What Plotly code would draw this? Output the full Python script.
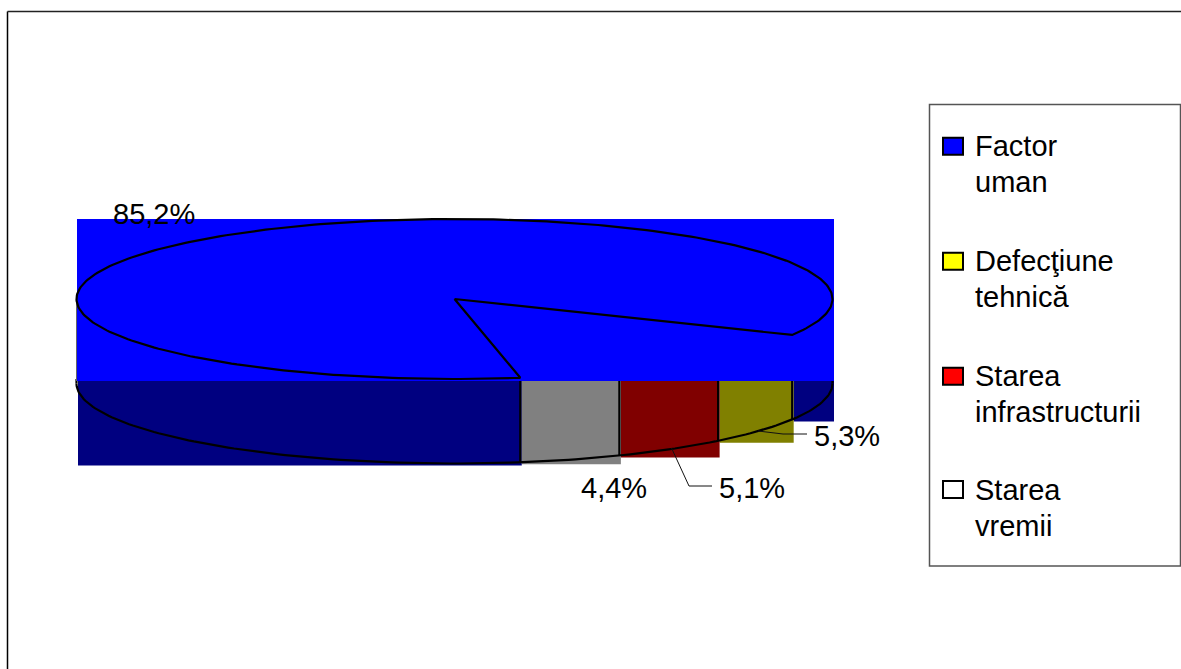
import numpy as np
import plotly.graph_objects as go

# Accident causes and their shares, in percent
categories = [["Factor", "uman"], ["Defecţiune", "tehnică"], ["Starea", "infrastructurii"], ["Starea", "vremii"]]
shares = [85.2, 5.3, 5.1, 4.4]
share_labels = ["85,2%", "5,3%", "5,1%", "4,4%"]

TOP_COLORS = ["#0000ff", "#ffff00", "#ff0000", "#ffffff"]
SIDE_COLORS = ["#000080", "#808000", "#800000", "#808080"]

# Tilted disc geometry, in pixels
CX, CY, RX, RY, DEPTH = 454.5, 299.0, 378.0, 80.0, 84.5
# Parametric angle where the first slice after the large one begins
START_DEG = 26.7
FONT = "Liberation Sans, Arial, sans-serif"
TEXT_SIZE = 29
RIM_WIDTH = 2.2


def top_xy(deg):
    rad = np.radians(deg)
    return CX + RX * np.cos(rad), CY + RY * np.sin(rad)


def bottom_xy(deg):
    x, y = top_xy(deg)
    return x, y + DEPTH


def arc(fn, a, b, n=160):
    return fn(np.linspace(a, b, n))


def box(x0, x1, y0, y1):
    return [x0, x1, x1, x0, x0], [y0, y0, y1, y1, y0]


# Slice boundaries run clockwise on screen: small slices first, large slice last
sweeps = [s / sum(shares) * 360 for s in shares[1:]]
edges = np.concatenate([[START_DEG], START_DEG + np.cumsum(sweeps)])

fig = go.Figure()


def add_fill(xs, ys, color):
    fig.add_trace(go.Scatter(x=xs, y=ys, mode="lines", fill="toself", fillcolor=color,
                             line=dict(width=0, color=color), showlegend=False, hoverinfo="skip"))


def add_line(xs, ys, width=RIM_WIDTH, color="#000000"):
    fig.add_trace(go.Scatter(x=xs, y=ys, mode="lines", line=dict(width=width, color=color),
                             showlegend=False, hoverinfo="skip"))


def add_side(a, b, color):
    xs, ys = arc(bottom_xy, a, b)
    add_fill(*box(xs.min() + 1.5, xs.max() + 1.5, CY, ys.max() + 2), color)


# Side walls: the large slice shows on both flanks of the small ones
add_side(edges[-1], 180, SIDE_COLORS[0])
add_side(0, edges[0], SIDE_COLORS[0])
for i in range(3):
    add_side(edges[i], edges[i + 1], SIDE_COLORS[i + 1])

# Lower rim and the vertical seams between slices
xs, ys = arc(bottom_xy, 0, 180)
add_line(xs, ys)
for e in edges:
    x, y = bottom_xy(e)
    add_line([x, x], [CY, y])
add_line([CX + RX, CX + RX], [CY, CY + DEPTH])
add_line([CX - RX, CX - RX], [CY + RY, CY + DEPTH])

# Top face of the large slice
add_fill(*box(CX - RX + 0.5, CX + RX + 1.5, CY - RY, CY + RY + 2), TOP_COLORS[0])
add_line([CX - RX, CX - RX], [CY, CY + RY + 2], width=1, color="#666666")

# Outline of the large slice: rim all the way round, then back through the centre
rim_x, rim_y = arc(top_xy, edges[-1], START_DEG + 360, 300)
add_line(np.concatenate([[CX], rim_x, [CX]]), np.concatenate([[CY], rim_y, [CY]]))

# Leader lines for two of the small slices
add_line([671.5, 689, 712], [448, 486, 486], width=1, color="#111111")
add_line([758, 783, 807], [431, 434, 434], width=1, color="#111111")

# Value labels, as placed beside the disc
label_centers = [(154, 214), (847, 436), (751.5, 488), (614, 488)]
annotations = [
    dict(x=px, y=py, text=t, showarrow=False, xanchor="center", yanchor="middle",
         font=dict(family=FONT, size=TEXT_SIZE, color="#000000"))
    for t, (px, py) in zip(share_labels, label_centers)
]

# Outer frame edges and the key box
shapes = [
    dict(type="line", x0=7.5, x1=7.5, y0=11.5, y1=669, line=dict(color="#000000", width=1.5)),
    dict(type="line", x0=7.5, x1=1181, y0=11.5, y1=11.5, line=dict(color="#222222", width=1.5)),
    dict(type="rect", x0=929.5, x1=1180.5, y0=104.5, y1=566, line=dict(color="#555555", width=1.5)),
]

# Key: a swatch per cause, with its name on two lines beside it
key_rows = [146.2, 261.2, 376.2, 489.5]
LINE_STEP = 36
for name_lines, color, row in zip(categories, TOP_COLORS, key_rows):
    shapes.append(dict(type="rect", x0=943, x1=963, y0=row - 8.5, y1=row + 8.5,
                       fillcolor=color, line=dict(color="#000000", width=2)))
    for j, line in enumerate(name_lines):
        annotations.append(dict(x=973, y=row + j * LINE_STEP, text=line, showarrow=False,
                                xanchor="left", yanchor="middle",
                                font=dict(family=FONT, size=TEXT_SIZE, color="#000000")))

fig.update_layout(
    width=1181, height=669, margin=dict(l=0, r=0, t=0, b=0),
    paper_bgcolor="#ffffff", plot_bgcolor="#ffffff", showlegend=False,
    xaxis=dict(range=[0, 1181], visible=False, fixedrange=True),
    yaxis=dict(range=[669, 0], visible=False, fixedrange=True),
    annotations=annotations, shapes=shapes, hovermode=False,
)

fig.write_html("out.html", config=dict(displayModeBar=False))
